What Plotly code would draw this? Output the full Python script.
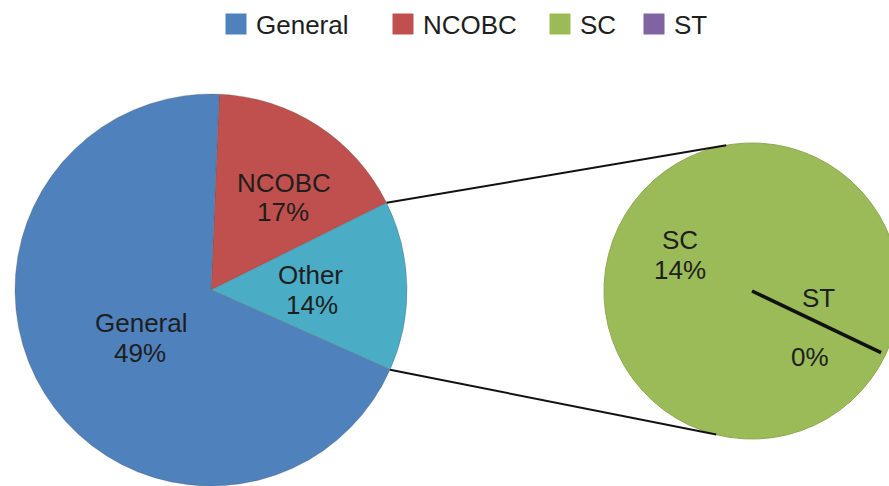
import math
import plotly.graph_objects as go

# ---------------- data ----------------
main_labels = ["NCOBC", "Other", "General"]
main_values = [17, 14, 69]            # slice sizes as drawn
main_pct_text = ["17%", "14%", "49%"]  # percentages as printed on the chart
main_colors = ["#C0504D", "#4BACC6", "#4F81BD"]

sub_labels = ["ST", "SC"]
sub_values = [0, 14]
sub_pct_text = ["0%", "14%"]
sub_colors = ["#8064A2", "#9BBB59"]

legend_labels = ["General", "NCOBC", "SC", "ST"]
legend_colors = ["#4F81BD", "#C0504D", "#9BBB59", "#8064A2"]

# ---------------- layout geometry ----------------
W, H = 900, 486
FONT = "Liberation Sans, Arial, sans-serif"
TXT = "#1e1e1e"

def fx(sx):
    return sx / W

def fy(sy):
    return 1 - sy / H

def dom(c, r):
    return dict(x=[fx(c[0] - r), fx(c[0] + r)], y=[fy(c[1] + r), fy(c[1] - r)])

left_c, left_r = (211, 290), 196
right_c, right_r = (752, 291), 148

main_rotation = 2.4
sub_rotation = 115.5

fig = go.Figure()

fig.add_trace(go.Pie(
    labels=main_labels, values=main_values, sort=False, direction="clockwise",
    rotation=main_rotation, domain=dom(left_c, left_r), textinfo="none", showlegend=False,
    marker=dict(colors=main_colors, line=dict(color="rgba(80,80,80,0.5)", width=0.6)),
    hoverinfo="label+value",
))

fig.add_trace(go.Pie(
    labels=sub_labels, values=sub_values, sort=False, direction="clockwise",
    rotation=sub_rotation, domain=dom(right_c, right_r), textinfo="none", showlegend=False,
    marker=dict(colors=sub_colors, line=dict(color="#8DAA52", width=1)),
    hoverinfo="label+value",
))

# legend entries, one small legend each so they can sit where the original has them
legend_x = [216, 383, 540, 634]
for i, (lab, col) in enumerate(zip(legend_labels, legend_colors)):
    lname = "legend" if i == 0 else f"legend{i + 1}"
    fig.add_trace(go.Scatter(
        x=[None], y=[None], mode="markers", name=lab, legend=lname,
        marker=dict(symbol="square", size=16, color=col, line=dict(color=col, width=8)),
    ))
    fig.update_layout({lname: dict(
        x=fx(legend_x[i]), xanchor="left", y=fy(24), yanchor="middle",
        font=dict(family=FONT, size=26, color=TXT), itemclick=False,
        bgcolor="rgba(0,0,0,0)", borderwidth=0)})

def pt(c, r, ang_deg):
    a = math.radians(ang_deg)
    return (c[0] + r * math.sin(a), c[1] - r * math.cos(a))

def seg(a, b, width, color="#111111"):
    fig.add_shape(type="line", xref="paper", yref="paper",
                  x0=fx(a[0]), y0=fy(a[1]), x1=fx(b[0]), y1=fy(b[1]),
                  line=dict(color=color, width=width))

# connector lines from the "Other" slice edges to the secondary pie
tot = sum(main_values)
a_start = main_rotation + 360 * main_values[0] / tot
a_end = main_rotation + 360 * (main_values[0] + main_values[1]) / tot
seg(pt(left_c, left_r, a_start), pt(right_c, right_r, -10), 2)
seg(pt(left_c, left_r, a_end), pt(right_c, right_r, 180 + 14), 2)

# zero-width ST slice boundary in the secondary pie
st_angle = sub_rotation + 360 * sub_values[0] / sum(sub_values)
seg(right_c, pt(right_c, right_r - 5, st_angle), 3.5)

# data labels
def add_label(x, y, text):
    fig.add_annotation(x=fx(x), y=fy(y), xref="paper", yref="paper",
                       text=text, showarrow=False,
                       font=dict(family=FONT, size=26, color=TXT),
                       xanchor="center", yanchor="middle")

add_label(284, 183, main_labels[0]); add_label(283, 212, main_pct_text[0])
add_label(310, 275, main_labels[1]); add_label(312, 305, main_pct_text[1])
add_label(141, 323, main_labels[2]); add_label(140, 353, main_pct_text[2])
add_label(680, 240, sub_labels[1]); add_label(680, 270, sub_pct_text[1])
add_label(818, 298, sub_labels[0])
add_label(810, 357, sub_pct_text[0])

fig.update_layout(
    width=W, height=H,
    margin=dict(l=0, r=0, t=0, b=0, autoexpand=False),
    paper_bgcolor="white", plot_bgcolor="white",
    xaxis=dict(visible=False), yaxis=dict(visible=False),
    font=dict(family=FONT, color=TXT),
    showlegend=True,
)

fig.write_html(
    "out.html",
    config={"displayModeBar": False},
    post_script="document.body.style.margin='0';document.body.style.overflow='hidden';"
                "document.documentElement.style.overflow='hidden';",
)
